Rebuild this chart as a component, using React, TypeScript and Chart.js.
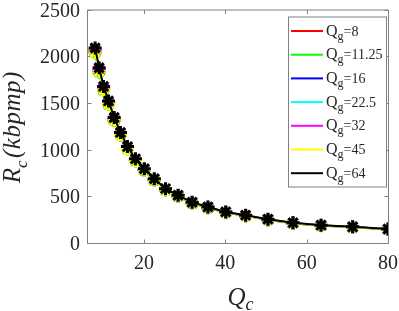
import React, { useEffect, useRef } from 'react';
import { Chart, registerables } from 'chart.js';
Chart.register(...registerables);

const qc = [8, 8.98, 10.07, 11.3, 12.68, 14.23, 15.96, 17.91, 20.1, 22.55, 25.3, 28.39, 31.85, 35.73, 40.1, 44.99, 50.48, 56.64, 63.55, 71.3, 80];
const rcQg8 = [2046, 1838, 1642, 1491, 1317, 1160, 1011, 883, 779, 674, 570, 501, 427, 378, 326, 292, 250, 212, 187, 170, 146];
const rcQg11 = [2036, 1829, 1634, 1483, 1310, 1154, 1006, 878, 775, 671, 567, 498, 425, 376, 325, 291, 249, 211, 186, 169, 145];
const rcQg16 = [2050, 1842, 1646, 1494, 1320, 1163, 1013, 885, 781, 676, 572, 502, 428, 379, 327, 293, 250, 212, 188, 170, 146];
const rcQg22 = [2057, 1848, 1651, 1498, 1324, 1166, 1017, 887, 783, 678, 573, 503, 429, 380, 328, 294, 251, 213, 188, 170, 147];
const rcQg32 = [2067, 1857, 1659, 1506, 1331, 1172, 1022, 892, 787, 681, 576, 506, 432, 382, 330, 295, 252, 214, 189, 171, 148];
const rcQg45 = [2042, 1835, 1639, 1488, 1314, 1158, 1009, 881, 778, 673, 569, 500, 426, 378, 326, 291, 249, 211, 187, 169, 146];
const rcQg64 = [2088, 1876, 1676, 1521, 1344, 1184, 1032, 901, 795, 688, 582, 511, 436, 386, 333, 298, 255, 216, 191, 173, 149];
const qgLabels = ['8', '11.25', '16', '22.5', '32', '45', '64'];
const seriesColors = ['#ff0000', '#00ff00', '#0000ff', '#00ffff', '#ff00ff', '#ffff00', '#000000'];
const xTicks = [20, 40, 60, 80];
const yTicks = [0, 500, 1000, 1500, 2000, 2500];

const SERIF = 'Liberation Serif';
const AXIS_COLOR = '#808080';
const TEXT_COLOR = '#262626';

type Run = { t: string; size: number; dy?: number; italic?: boolean; ls?: number };

function runWidth(ctx: CanvasRenderingContext2D, r: Run) {
  ctx.font = `${r.italic ? 'italic ' : ''}${r.size}px "${SERIF}"`;
  (ctx as any).letterSpacing = `${r.ls || 0}px`;
  return ctx.measureText(r.t).width;
}

function drawRuns(ctx: CanvasRenderingContext2D, runs: Run[], x: number, y: number, center: boolean) {
  let total = 0;
  for (const r of runs) total += runWidth(ctx, r);
  let cx = center ? x - total / 2 : x;
  ctx.textBaseline = 'alphabetic';
  ctx.textAlign = 'left';
  for (const r of runs) {
    const w = runWidth(ctx, r);
    ctx.fillText(r.t, cx, y + (r.dy || 0));
    cx += w;
  }
  (ctx as any).letterSpacing = '0px';
}

const decor = {
  id: 'decor',
  beforeDatasetsDraw(chart: any) {
    const { ctx, chartArea: a, scales } = chart;
    ctx.save();
    ctx.strokeStyle = AXIS_COLOR;
    ctx.lineWidth = 1;
    const L = a.left + 0.5, R = a.right + 0.5, T = a.top + 0.5, B = a.bottom + 0.5;
    ctx.beginPath();
    ctx.rect(L, T, R - L, B - T);
    const tl = 4;
    for (const v of xTicks) {
      const px = Math.round(scales.x.getPixelForValue(v)) + 0.5;
      ctx.moveTo(px, B); ctx.lineTo(px, B - tl);
      ctx.moveTo(px, T); ctx.lineTo(px, T + tl);
    }
    for (const v of yTicks) {
      const py = Math.round(scales.y.getPixelForValue(v)) + 0.5;
      ctx.moveTo(L, py); ctx.lineTo(L + tl, py);
      ctx.moveTo(R, py); ctx.lineTo(R - tl, py);
    }
    ctx.stroke();

    // tick labels from the scales
    ctx.fillStyle = TEXT_COLOR;
    ctx.font = `20px "${SERIF}"`;
    ctx.textBaseline = 'alphabetic';
    ctx.textAlign = 'center';
    for (const v of xTicks) {
      ctx.fillText(String(v), scales.x.getPixelForValue(v), a.bottom + 26);
    }
    ctx.textAlign = 'right';
    for (const v of yTicks) {
      ctx.fillText(String(v), a.left - 7, scales.y.getPixelForValue(v) + 7);
    }
    ctx.restore();
  },
  afterDraw(chart: any) {
    const { ctx, chartArea: a } = chart;
    ctx.save();
    ctx.fillStyle = TEXT_COLOR;
    // x title
    drawRuns(ctx, [
      { t: 'Q', size: 25, italic: true },
      { t: 'c', size: 18, italic: true, dy: 5 },
    ], (a.left + a.right) / 2 + 3, 305, true);
    // y title
    ctx.save();
    ctx.translate(20, (a.top + a.bottom) / 2 + 1);
    ctx.rotate(-Math.PI / 2);
    drawRuns(ctx, [
      { t: 'R', size: 25, italic: true },
      { t: 'c', size: 17, italic: true, dy: 7 },
      { t: ' ', size: 10 },
      { t: '(kbpmp)', size: 25, italic: true, ls: 0.5 },
    ], 0, 0, true);
    ctx.restore();

    // legend
    const lx = a.right - 100, ly = a.top + 7, lw = 98, lh = 170;
    ctx.fillStyle = '#ffffff';
    ctx.fillRect(lx, ly, lw, lh);
    ctx.strokeStyle = AXIS_COLOR;
    ctx.lineWidth = 1;
    ctx.strokeRect(lx + 0.5, ly + 0.5, lw, lh);
    qgLabels.forEach((lab, i) => {
      const y = ly + 14.5 + i * 23.7;
      ctx.strokeStyle = seriesColors[i];
      ctx.lineWidth = 2;
      ctx.beginPath();
      ctx.moveTo(lx + 3, y);
      ctx.lineTo(lx + 35, y);
      ctx.stroke();
      ctx.fillStyle = TEXT_COLOR;
      drawRuns(ctx, [
        { t: 'Q', size: 16 },
        { t: 'g', size: 12, dy: 4 },
        { t: '=' + lab, size: 14 },
      ], lx + 38, y + 4.5, false);
    });
    ctx.restore();
  },
};

export default function App() {
  const ref = useRef<HTMLCanvasElement>(null);
  useEffect(() => {
    document.body.style.margin = '0';
    const series = [rcQg8, rcQg11, rcQg16, rcQg22, rcQg32, rcQg45, rcQg64];
    const datasets = series.map((vals, i) => ({
      label: 'Qg=' + qgLabels[i],
      data: qc.map((x, j) => ({ x, y: vals[j] })),
      borderColor: seriesColors[i],
      backgroundColor: seriesColors[i],
      borderWidth: 2,
      pointStyle: 'star',
      pointRadius: 6.5,
      pointBorderWidth: 3,
      pointBorderColor: seriesColors[i],
      tension: 0,
      order: series.length - 1 - i,
    }));
    const chart = new Chart(ref.current!, {
      type: 'line',
      data: { datasets },
      options: {
        animation: false,
        responsive: false,
        devicePixelRatio: 1,
        layout: { padding: { top: 8, right: 11, left: 0, bottom: 0 } },
        plugins: { legend: { display: false }, tooltip: { enabled: false } },
        scales: {
          x: {
            type: 'linear',
            min: 6,
            max: 80,
            afterBuildTicks: (s: any) => { s.ticks = xTicks.map((v) => ({ value: v })); },
            afterFit: (s: any) => { s.height = 68; },
            grid: { display: false, drawTicks: false, tickLength: 0 },
            border: { display: false },
            ticks: { display: false },
          },
          y: {
            type: 'linear',
            min: 0,
            max: 2500,
            afterBuildTicks: (s: any) => { s.ticks = yTicks.map((v) => ({ value: v })); },
            afterFit: (s: any) => { s.width = 87; },
            grid: { display: false, drawTicks: false, tickLength: 0 },
            border: { display: false },
            ticks: { display: false },
          },
        },
      },
      plugins: [decor],
    } as any);
    return () => chart.destroy();
  }, []);
  return (
    <div style={{ width: 399, height: 311 }}>
      <canvas ref={ref} width={399} height={311} />
    </div>
  );
}
